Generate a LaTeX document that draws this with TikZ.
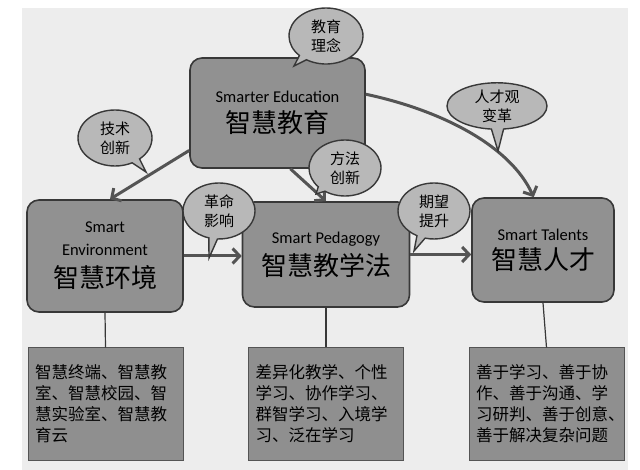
\documentclass[tikz,border=0pt]{standalone}
\usepackage{fontspec}
\setmainfont{Carlito}
\newfontfamily\cjk{Noto Sans CJK SC}
\usetikzlibrary{arrows.meta,shapes.callouts}

\definecolor{bgcol}{gray}{0.93}
\definecolor{boxcol}{gray}{0.57}
\definecolor{bubcol}{gray}{0.72}
\definecolor{listcol}{gray}{0.56}
\definecolor{edgecol}{gray}{0.22}
\definecolor{arrcol}{gray}{0.33}

\tikzset{
  mainbox/.style={draw=edgecol, line width=1.6pt, fill=boxcol, rounded corners=12pt,
    align=center, inner sep=0pt, font=\fontsize{16.5}{20}\selectfont},
  bubble/.style={ellipse callout, draw=edgecol, line width=1.4pt, fill=bubcol,
    align=center, inner sep=0pt, callout pointer arc=14,
    font=\cjk\fontsize{15}{19}\selectfont},
  listbox/.style={draw=arrcol, line width=1pt, fill=listcol, minimum width=155pt,
    minimum height=112pt, text width=141pt, align=left, inner sep=0pt,
    font=\cjk\fontsize{16.5}{21}\selectfont},
  flow/.style={draw=arrcol, line width=3pt, -{Straight Barb[length=7pt,width=15pt]}},
  stem/.style={draw=edgecol, line width=1.2pt},
}
\newcommand{\zh}[1]{{\cjk\fontsize{26}{30}\selectfont #1}}

\begin{document}
\begin{tikzpicture}[x=1pt,y=-1pt]
\useasboundingbox (0,0) rectangle (640,470);

% Background
\fill[bgcol] (22,8) rectangle (628,470);

% Main boxes
\node[mainbox, minimum width=175pt, minimum height=110pt] (edu) at (277.5,113)
  {Smarter Education\\[7pt]\zh{智慧教育}};
\node[mainbox, minimum width=156pt, minimum height=112pt] (env) at (105,256)
  {Smart\\[3pt]Environment\\[9pt]\zh{智慧环境}};
\node[mainbox, minimum width=167pt, minimum height=105pt] (ped) at (326,254.5)
  {Smart Pedagogy\\[6pt]\zh{智慧教学法}};
\node[mainbox, minimum width=142pt, minimum height=104pt] (tal) at (543,250)
  {Smart Talents\\[6pt]\zh{智慧人才}};

% Lists
\node[listbox] (envlist) at (105.5,404)
  {智慧终端、智慧教\\室、智慧校园、智\\慧实验室、智慧教\\育云\\[14pt]};
\node[listbox] (pedlist) at (326,404)
  {差异化教学、个性\\学习、协作学习、\\群智学习、入境学\\习、泛在学习\\[14pt]};
\node[listbox] (tallist) at (546.5,404)
  {善于学习、善于协\\作、善于沟通、学\\习研判、善于创意、\\善于解决复杂问题\\[10pt]};

\draw[stem] (env.south) -- (envlist.north);
\draw[stem] (ped.south) -- (pedlist.north);
\draw[stem] (tal.south) -- (tallist.north);

% Arrows
\draw[flow] (edu.203) -- (env.85);
\draw[flow] (edu.-77) -- (ped.north);
\draw[flow] (edu.12) .. controls (440,110) and (510,145) .. (tal.100);
\draw[flow] (env.east) -- (env.east -| ped.west);
\draw[flow] (ped.east) -- (ped.east -| tal.west);

% Bubbles
\node[bubble, minimum width=74pt, minimum height=56pt,
  callout absolute pointer={(294,66)}] (idea) at (326,36) {教育\\理念};
\node[bubble, minimum width=74pt, minimum height=56pt,
  callout absolute pointer={(146,172)}] (tech) at (115,138) {技术\\创新};
\node[bubble, minimum width=72pt, minimum height=56pt,
  callout absolute pointer={(316,194)}] (method) at (345,168) {方法\\创新};
\node[bubble, minimum width=100pt, minimum height=45pt,
  callout absolute pointer={(498,151)}] (view) at (497,106) {人才观\\变革};
\node[bubble, minimum width=72pt, minimum height=56pt,
  callout absolute pointer={(209,258)}] (revo) at (219,211) {革命\\影响};
\node[bubble, minimum width=72pt, minimum height=56pt,
  callout absolute pointer={(414,251)}] (hope) at (434,211) {期望\\提升};

\end{tikzpicture}
\end{document}
